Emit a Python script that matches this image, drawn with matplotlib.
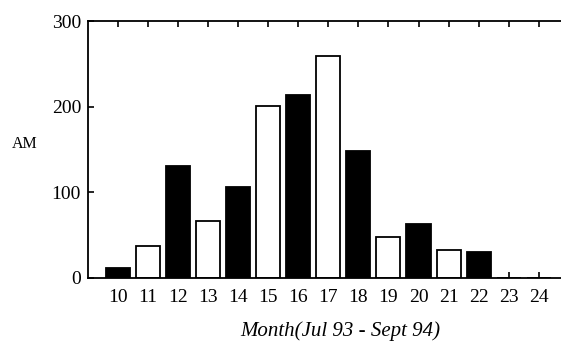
import matplotlib
matplotlib.use("Agg")
import matplotlib.pyplot as plt

months = [10, 11, 12, 13, 14, 15, 16, 17, 18, 19, 20, 21, 22, 23, 24]
values = [11, 37, 130, 66, 106, 201, 214, 259, 148, 48, 63, 32, 30, 0, 0]
colors = ['black', 'white', 'black', 'white', 'black', 'white', 'black', 'white',
          'black', 'white', 'black', 'white', 'black', 'white', 'black']
yticks = [0, 100, 200, 300]
xlabel = "Month(Jul 93 - Sept 94)"
ylabel = "AM"

plt.rcParams['font.family'] = ['Liberation Serif', 'DejaVu Serif']

fig = plt.figure(figsize=(5.61, 3.42), dpi=100)
ax = fig.add_axes([88/561, 1 - 277.7/342, 1 - 88/561, (277.7 - 21)/342])

ax.bar(months, values, width=0.8, color=colors, edgecolor='black', linewidth=1.3, zorder=2)
ax.set_xlim(9, 24 + (561 - 538.7) / 30.05)
ax.set_ylim(0, 300)
ax.set_axisbelow(True)

ax.set_xticks(months)
ax.set_xticklabels([str(m) for m in months])
ax.set_yticks(yticks)
ax.tick_params(axis='x', direction='in', top=True, bottom=True, length=4, width=1.2,
               labelsize=14, pad=8)
ax.tick_params(axis='y', direction='in', left=True, right=False, length=4, width=1.2,
               labelsize=14, pad=5)

ax.spines['right'].set_visible(False)
for s in ['left', 'top', 'bottom']:
    ax.spines[s].set_linewidth(1.3)

fig.text(12/561, 1 - 144/342, ylabel, fontsize=11.5, ha='left', va='center')
fig.text(340/561, 1 - 331/342, xlabel, fontsize=15, style='italic', ha='center', va='center')

fig.savefig("out.png", dpi=100)
